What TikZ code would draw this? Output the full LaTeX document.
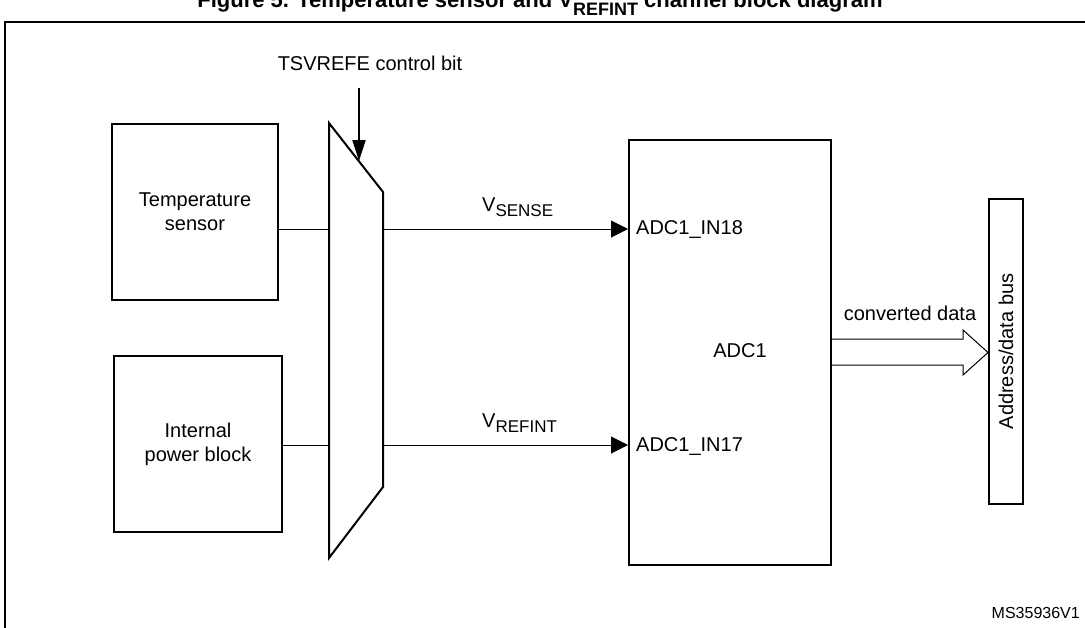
\documentclass[tikz,border=0pt]{standalone}
\usepackage{fontspec}
\setmainfont{Liberation Sans}
\usetikzlibrary{arrows.meta}
\newcommand\mysub[1]{\raisebox{-5pt}{\fontsize{17}{17}\selectfont #1}}
\begin{document}
\begin{tikzpicture}[x=1pt,y=-1pt,
  txt/.style={inner sep=0pt,font=\fontsize{20}{24}\selectfont},
  blk/.style={txt,draw,line width=2pt,align=center},
  wire/.style={line width=1pt},
  sig/.style={line width=1pt,-{Triangle[length=17pt,width=17pt]}},
  ctl/.style={line width=2pt,-{Triangle[length=21pt,width=13pt]}},
  thick2/.style={line width=2pt,line join=miter},
]
\useasboundingbox (0,0) rectangle (1085,627);
% title (clipped at the top)
\node[anchor=base,inner sep=0pt,font=\bfseries\fontsize{22}{24}\selectfont] (title) at (540,7)
  {Figure 5. Temperature sensor and V\raisebox{-8pt}{\fontsize{18}{18}\selectfont REFINT} channel block diagram};
% frame
\draw[line width=2pt] (5,22) rectangle (1100,650);

% blocks
\node[blk,minimum width=166pt,minimum height=176pt] (temp) at (195,212) {Temperature\\sensor};
\node[blk,minimum width=168pt,minimum height=176pt] (ipb) at (198,444) {Internal\\power block};
\node[blk,minimum width=202pt,minimum height=425pt] (adc) at (730,352.5) {};
\node[txt] (adclbl) at (740,351) {ADC1};
\node[blk,rotate=90,minimum width=305pt,minimum height=34pt] (bus) at (1006,351.5) {Address/data bus};

% multiplexer
\coordinate (mtl) at (329,123);
\coordinate (mtr) at (383,192);
\coordinate (mbr) at (383,487);
\coordinate (mbl) at (329,558);
\draw[thick2] (mtl) -- (mtr) -- (mbr) -- (mbl) -- cycle;

% connection points
\coordinate (m1) at (329,229);
\coordinate (m2) at (383,229);
\coordinate (m3) at (329,445);
\coordinate (m4) at (383,445);
\draw[wire] (temp.east |- m1) -- (m1);
\draw[wire] (ipb.east |- m3) -- (m3);
\draw[sig] (m2) -- (adc.west |- m2);
\draw[sig] (m4) -- (adc.west |- m4);

% control bit
\node[txt] (ctllbl) at (370,63) {TSVREFE control bit};
\coordinate (cstart) at (359,88);
\coordinate (ctip) at (359,161);
\draw[ctl] (cstart) -- (ctip);

% signal labels
\node[txt,anchor=west] (vsense) at (482,207) {V\mysub{SENSE}};
\node[txt,anchor=west] (vrefint) at (482,423) {V\mysub{REFINT}};
\node[txt,anchor=west] (in18) at (636,230) {ADC1\_IN18};
\node[txt,anchor=west] (in17) at (636,446) {ADC1\_IN17};

% converted data hollow arrow
\node[txt] (cdata) at (910,313) {converted data};
\coordinate (btip) at (988,352.5);
\draw[line width=1pt,line join=miter]
  (adc.east |- 0,339) -- (963,339) -- (963,330) -- (btip)
  -- (963,375) -- (963,365) -- (adc.east |- 0,365);

% reference
\node[inner sep=0pt,font=\fontsize{16}{18}\selectfont,anchor=east] (ref) at (1080,613) {MS35936V1};
\end{tikzpicture}
\end{document}
